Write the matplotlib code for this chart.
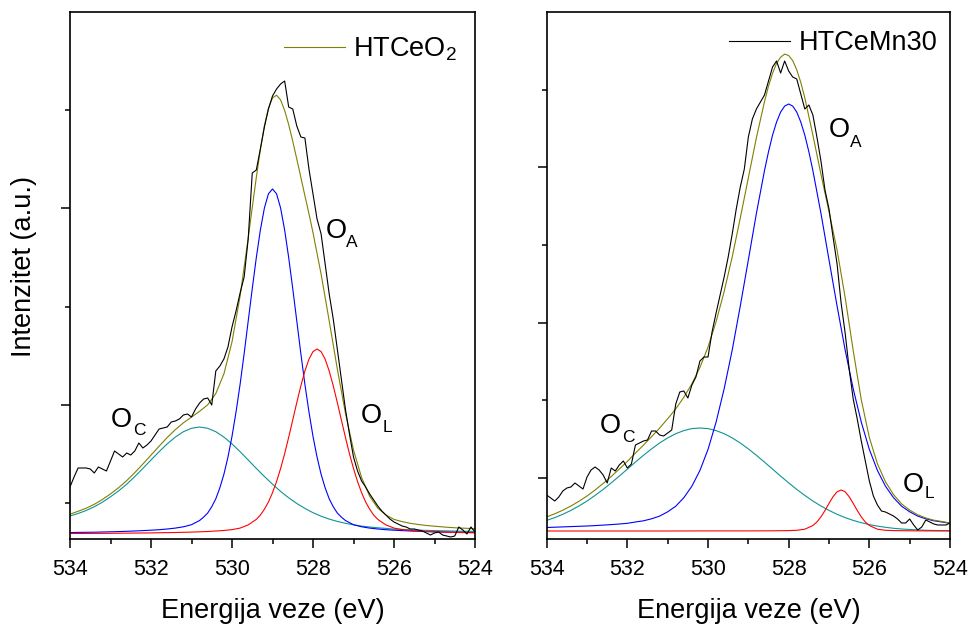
import numpy as np
import matplotlib
matplotlib.use("Agg")
import matplotlib.pyplot as plt
from matplotlib.ticker import FixedLocator, MultipleLocator, NullFormatter

plt.rcParams['font.family'] = ['Liberation Sans', 'DejaVu Sans']
plt.rcParams['mathtext.fontset'] = 'custom'
plt.rcParams['mathtext.rm'] = 'Liberation Sans'
plt.rcParams['mathtext.default'] = 'regular'

# ---------------- data (binding energy in eV, intensity in a.u.) ----------------
energy_fit = np.linspace(534, 524, 51)    # fit curves sampled every 0.2 eV
energy_raw = np.linspace(534, 524, 101)   # measured spectrum every 0.1 eV

# ---- HTCeO2 ----
ceo2_raw = [52, 62, 71, 71, 71, 70, 66, 72, 70, 68,
            78, 88, 85, 82, 86, 84, 88, 96, 91, 94,
            98, 104, 110, 111, 112, 117, 118, 120, 124, 125,
            122, 130, 136, 140, 141, 134, 168, 173, 180, 192,
            212, 228, 246, 262, 300, 366, 369, 390, 412, 430,
            443, 450, 455, 458, 432, 430, 413, 402, 401, 370,
            345, 320, 305, 275, 245, 220, 190, 160, 130, 105,
            82, 68, 58, 52, 45, 39, 33, 28, 24, 20,
            17, 15, 13, 12, 10, 10, 9, 8, 6, 4,
            6, 7, 4, 3, 2, 3, 12, 9, 5, 12,
            7]
# envelope: 0.2 eV steps, 0.1 eV steps across the peak top
ceo2_env_energy = np.concatenate([np.linspace(534, 529.6, 23),
                                  np.linspace(529.5, 528.1, 15),
                                  np.linspace(528.0, 524, 21)])
ceo2_envelope = [24.8, 27.7, 30.8, 34.7, 39.5, 45.1, 51.3, 58.4, 66.4, 75.0,
                 83.9, 92.8, 101.5, 109.3, 116.2, 121.9, 127.7, 134.2, 145.4, 165.1,
                 197.1, 242.9, 301.0,
                 331.4, 361.5, 389.3, 413.3, 430.8, 441.1, 443.8, 439.1, 428.6, 414.3,
                 397.7, 379.9, 361.6, 343.3, 325.3,
                 306.3, 264.9, 218.1, 170.1, 126.0, 89.0, 61.4, 42.7, 30.8, 24.0,
                 19.6, 17.4, 15.7, 14.5, 13.5, 12.8, 12.1, 11.5, 11.0, 10.7,
                 10.2]
ceo2_oc = [23.0, 25.5, 28.5, 32.3, 36.8, 42.2, 48.1, 54.8, 62.5, 70.6,
           79.0, 87.3, 95.1, 101.9, 107.3, 110.7, 112.0, 110.7, 107.3, 101.9,
           95.1, 87.3, 79.0, 70.6, 62.5, 54.8, 47.6, 41.2, 35.5, 30.6,
           26.3, 22.8, 19.9, 17.6, 15.7, 14.2, 12.9, 12.0, 11.2, 10.6,
           9.9, 9.6, 9.2, 8.9, 8.6, 8.4, 8.2, 8.0, 7.8, 7.7,
           7.6]
ceo2_oa_energy = np.concatenate([np.linspace(534, 530.8, 17),
                                 np.linspace(530.7, 527.3, 35),
                                 np.linspace(527.2, 524, 17)])
ceo2_oa = [6.4, 6.6, 6.7, 6.8, 7.0, 7.2, 7.4, 7.7, 8.0, 8.4,
           8.8, 9.3, 10.0, 10.9, 12.2, 14.3, 18.5,
           21.9, 26.0, 32.3, 40.2, 51.2, 64.7, 81.9, 102.6, 127.1, 154.7,
           185.4, 217.9, 250.3, 281.3, 308.9, 331.0, 345.2, 350.0, 345.2, 331.0,
           308.9, 281.3, 250.3, 217.9, 185.4, 154.7, 127.1, 102.6, 81.9, 64.7,
           51.2, 40.2, 32.3, 26.0, 21.9,
           18.5, 14.3, 12.2, 10.9, 10.0, 9.3, 8.8, 8.4, 8.0, 7.7,
           7.4, 7.2, 7.0, 6.8, 6.7, 6.6, 6.4]
ceo2_ol_energy = [534.0, 533.0, 532.0, 531.4, 531.0, 530.6, 530.2, 530.0, 529.8, 529.6,
                  529.4, 529.3, 529.2, 529.1, 529.0, 528.9, 528.8, 528.7, 528.6, 528.5,
                  528.4, 528.3, 528.2, 528.1, 528.0, 527.9, 527.8, 527.7, 527.6, 527.5,
                  527.4, 527.3, 527.2, 527.1, 527.0, 526.9, 526.8, 526.7, 526.6, 526.5,
                  526.4, 526.2, 526.0, 525.8, 525.6, 525.2, 524.8, 524.4, 524.0]
ceo2_ol = [5.5, 5.7, 6.1, 6.5, 6.9, 7.5, 8.5, 9.4, 10.9, 14.1,
           19.6, 23.9, 29.8, 37.0, 46.3, 57.4, 70.5, 85.3, 101.8, 119.1,
           136.5, 153.2, 168.0, 179.8, 187.4, 190.0, 187.4, 179.8, 168.0, 153.2,
           136.5, 119.1, 101.8, 85.3, 70.5, 57.4, 46.3, 37.0, 29.8, 23.9,
           19.6, 14.1, 10.9, 9.4, 8.5, 7.5, 6.9, 6.5, 6.2]

# ---- HTCeMn30 ----
cemn_raw = [44, 41, 38, 42, 48, 51, 52, 56, 53, 50,
            62, 69, 72, 69, 64, 56, 71, 68, 74, 78,
            71, 75, 94, 96, 98, 99, 108, 108, 104, 103,
            106, 109, 135, 147, 148, 141, 154, 162, 178, 182,
            182, 207, 226, 244, 262, 282, 305, 330, 352, 370,
            402, 420, 430, 437, 444, 458, 472, 478, 466, 478,
            468, 462, 460, 445, 430, 434, 424, 402, 378, 349,
            330, 302, 275, 236, 206, 170, 140, 120, 98, 78,
            58, 43, 34, 28, 27, 25, 23, 20, 16, 16,
            20, 14, 9, 12, 19, 17, 15, 14, 14, 14,
            16]
cemn_env_energy = np.concatenate([np.linspace(534, 528.6, 28),
                                  np.linspace(528.5, 527.7, 9),
                                  np.linspace(527.6, 524, 19)])
cemn_envelope = [22.1, 25.2, 28.8, 33.0, 37.7, 43.0, 49.0, 55.5, 62.5, 69.9,
                 77.6, 85.9, 93.9, 102.3, 110.9, 120.3, 130.1, 141.7, 155.2, 171.6,
                 192.0, 217.3, 247.5, 282.1, 321.0, 361.2, 401.4, 437.3,
                 452.9, 465.7, 475.7, 481.8, 484.9, 483.5, 478.3, 469.2, 456.6,
                 441.2, 403.9, 364.8, 327.3, 288.9, 241.6, 188.4, 139.3, 101.5, 75.3,
                 57.2, 44.4, 35.1, 28.9, 24.2, 21.0, 18.8, 17.5, 16.0]
cemn_oc = [18.6, 21.4, 24.7, 28.6, 33.0, 38.0, 43.6, 49.6, 56.1, 62.9,
           69.9, 76.9, 83.7, 90.1, 96.0, 101.1, 105.3, 108.4, 110.4, 111.0,
           110.4, 108.4, 105.3, 101.1, 96.0, 90.1, 83.7, 76.9, 69.9, 62.9,
           56.1, 49.6, 43.6, 38.0, 33.0, 28.6, 24.7, 21.4, 18.6, 16.3,
           14.4, 12.9, 11.7, 10.7, 10.0, 9.5, 9.1, 8.7, 8.5, 8.4,
           8.2]
cemn_oa_energy = np.concatenate([np.linspace(534, 528.6, 28),
                                 np.linspace(528.5, 527.5, 11),
                                 np.linspace(527.4, 524, 18)])
cemn_oa = [11.5, 11.8, 12.1, 12.4, 12.7, 13.0, 13.4, 13.9, 14.4, 15.0,
           15.7, 17.0, 18.2, 20.2, 22.9, 27.2, 32.8, 41.3, 52.8, 68.6,
           89.6, 116.9, 150.2, 189.0, 233.0, 279.1, 325.7, 368.4,
           387.3, 403.8, 417.0, 426.9, 432.9, 435.0, 432.9, 426.9, 417.0, 403.8,
           387.3,
           368.4, 325.7, 279.1, 233.0, 189.0, 150.2, 116.9, 89.6, 68.6, 52.8,
           41.3, 32.8, 27.2, 22.9, 20.2, 18.2, 17.0, 15.7]
cemn_ol_energy = [534.0, 533.0, 532.0, 531.0, 530.0, 529.0, 528.4, 528.0, 527.8, 527.6,
                  527.4, 527.3, 527.2, 527.1, 527.0, 526.9, 526.8, 526.7, 526.6, 526.5,
                  526.4, 526.3, 526.2, 526.1, 526.0, 525.8, 525.6, 525.4, 525.0, 524.5,
                  524.0]
cemn_ol = [8.0, 8.0, 8.0, 8.0, 8.1, 8.1, 8.2, 8.4, 8.7, 9.8,
           13.5, 17.0, 22.1, 28.5, 35.6, 42.3, 47.2, 49.0, 47.2, 42.3,
           35.6, 28.5, 22.1, 17.0, 13.5, 9.8, 8.7, 8.4, 8.2, 8.1,
           8.1]

x_major = [534, 532, 530, 528, 526, 524]
x_labels = ['534', '532', '530', '528', '526', '524']

# ---------------- styling ----------------
C_RAW = '#000000'
C_ENV = '#808000'
C_OC = '#0e9494'
C_OA = '#0000ff'
C_OL = '#ff0000'
LW = 0.8
FS_LABEL = 19.5
FS_TICK = 15.5
FS_SUB = 12.5

W, H = 971, 626
fig = plt.figure(figsize=(W / 100, H / 100), dpi=100)
axL = fig.add_axes([70 / W, 1 - 539 / H, 405 / W, 527 / H])
axR = fig.add_axes([546.7 / W, 1 - 539 / H, 403.3 / W, 527 / H])


def style(ax, ymaj, ymin):
    ax.set_xlim(534, 524)
    ax.set_ylim(0, 527)
    ax.xaxis.set_major_locator(FixedLocator(x_major))
    ax.set_xticklabels(x_labels)
    ax.xaxis.set_minor_locator(MultipleLocator(1))
    ax.yaxis.set_major_locator(FixedLocator(ymaj))
    ax.yaxis.set_minor_locator(FixedLocator(ymin))
    ax.yaxis.set_major_formatter(NullFormatter())
    ax.tick_params(which='major', direction='out', length=6.8, width=1.1,
                   labelsize=FS_TICK, pad=7.5)
    ax.tick_params(which='minor', direction='out', length=3.6, width=1.1)
    for s in ax.spines.values():
        s.set_linewidth(1.2)
    ax.set_xlabel('Energija veze (eV)', fontsize=FS_LABEL, labelpad=13)


def draw(ax, raw, env_e, env, oc, oa_e, oa, ol_e, ol):
    ax.plot(energy_fit, oc, color=C_OC, lw=LW)
    ax.plot(oa_e, oa, color=C_OA, lw=LW)
    ax.plot(ol_e, ol, color=C_OL, lw=LW)
    l_env, = ax.plot(env_e, env, color=C_ENV, lw=LW)
    l_raw, = ax.plot(energy_raw, raw, color=C_RAW, lw=LW)
    return l_raw, l_env


def peak_label(ax, x, y, sub, xs, ys):
    ax.text(x, y, 'O', fontsize=FS_LABEL, ha='left', va='baseline')
    ax.text(xs, ys, sub, fontsize=FS_SUB, ha='left', va='baseline')


l_raw_L, l_env_L = draw(axL, ceo2_raw, ceo2_env_energy, ceo2_envelope, ceo2_oc,
                        ceo2_oa_energy, ceo2_oa, ceo2_ol_energy, ceo2_ol)
l_raw_R, l_env_R = draw(axR, cemn_raw, cemn_env_energy, cemn_envelope, cemn_oc,
                        cemn_oa_energy, cemn_oa, cemn_ol_energy, cemn_ol)

style(axL, [134, 331], [36, 232, 429])
style(axR, [61, 216, 372], [139, 294, 449])

peak_label(axL, 527.68, 301, 'A', 527.19, 292)
peak_label(axL, 532.99, 112, 'C', 532.44, 104)
peak_label(axL, 526.81, 116, 'L', 526.27, 107)

peak_label(axR, 527.00, 402, 'A', 526.48, 392)
peak_label(axR, 532.68, 106, 'C', 532.13, 97)
peak_label(axR, 525.17, 47, 'L', 524.62, 41)

axL.legend([l_env_L], ['HTCeO$_2$'], loc='center left',
           bbox_to_anchor=((284 - 70) / 405, (539 - 49) / 527),
           frameon=False, borderpad=0, borderaxespad=0,
           handlelength=2.26, handletextpad=0.3, fontsize=FS_LABEL)
axR.legend([l_raw_R], ['HTCeMn30'], loc='center left',
           bbox_to_anchor=((729 - 546.7) / 403.3, (539 - 43) / 527),
           frameon=False, borderpad=0, borderaxespad=0,
           handlelength=2.26, handletextpad=0.33, fontsize=FS_LABEL)

fig.text(24 / W, 1 - 266 / H, 'Intenzitet (a.u.)', rotation=90,
         fontsize=FS_LABEL, ha='center', va='center')

fig.savefig('out.png', dpi=100)
